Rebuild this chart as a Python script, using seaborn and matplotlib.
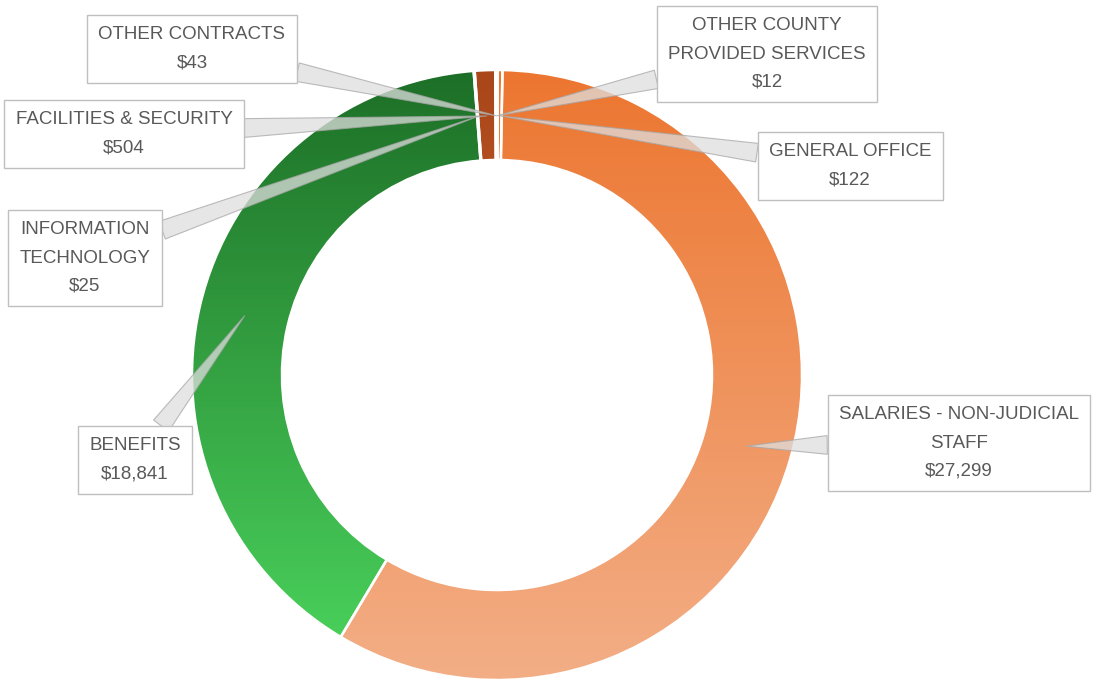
import numpy as np
import matplotlib.pyplot as plt
import seaborn as sns

# slices, clockwise from 12 o'clock
categories = [
    "OTHER COUNTY\nPROVIDED SERVICES",
    "GENERAL OFFICE",
    "SALARIES - NON-JUDICIAL\nSTAFF",
    "BENEFITS",
    "INFORMATION\nTECHNOLOGY",
    "FACILITIES & SECURITY",
    "OTHER CONTRACTS",
]
amounts = [12, 122, 27299, 18841, 25, 504, 43]

# vertical gradient per slice (top colour, bottom colour)
top_colors = ["#9fb4d8", "#ec7630", "#ec7630", "#1d6f27", "#1d6f27", "#a9461a", "#c55a11"]
bottom_colors = ["#b4c7e7", "#f3ae86", "#f3ae86", "#4cd65e", "#4cd65e", "#e07a3a", "#e07a3a"]

# label box centres in pixels (x from left, y from top)
label_px = [(767, 54), (850, 166), (959, 443), (135, 460), (85, 258), (124, 134), (192, 49)]

sns.set_theme(style="white")
plt.rcParams["font.family"] = ["Liberation Sans", "DejaVu Sans"]

W, H = 1102, 682
cx, cy, R = 497, 375, 305  # pie centre and radius in pixels

fig = plt.figure(figsize=(W / 100, H / 100), dpi=100)
ax = fig.add_axes([0, 0, 1, 1])

wedges, _ = ax.pie(amounts, startangle=90, counterclock=False, radius=1,
                   wedgeprops=dict(width=0.295, edgecolor="white", linewidth=1.8))

grad = np.linspace(0, 1, 256).reshape(-1, 1)
for w, top, bot in zip(wedges, top_colors, bottom_colors):
    cmap = sns.blend_palette([bot, top], n_colors=256, as_cmap=True)
    im = ax.imshow(grad, extent=(-1, 1, -1, 1), origin="lower", cmap=cmap,
                   aspect="auto", zorder=1, interpolation="bicubic")
    im.set_clip_path(w)
    w.set_facecolor("none")
    w.set_zorder(2)

for w, name, val, (px, py) in zip(wedges, categories, amounts, label_px):
    mid = np.deg2rad((w.theta1 + w.theta2) / 2)
    tip = (0.85 * np.cos(mid), 0.85 * np.sin(mid))
    pos = ((px - cx) / R, (cy - py) / R)
    ax.annotate(f"{name}\n${val:,}", xy=tip, xytext=pos,
                ha="center", va="center", fontsize=13.5, color="#595959",
                linespacing=1.85, zorder=5,
                bbox=dict(boxstyle="square,pad=0.6", fc="white", ec="#bfbfbf", lw=1),
                arrowprops=dict(arrowstyle="wedge,tail_width=1.0,shrink_factor=0.5",
                                fc="#dedede", ec="#a6a6a6", lw=0.8, alpha=0.75,
                                shrinkA=0, shrinkB=0))

ax.set_xlim(-cx / R, (W - cx) / R)
ax.set_ylim(-(H - cy) / R, cy / R)
ax.set_aspect("equal")
ax.axis("off")

fig.savefig("out.png", dpi=100)
